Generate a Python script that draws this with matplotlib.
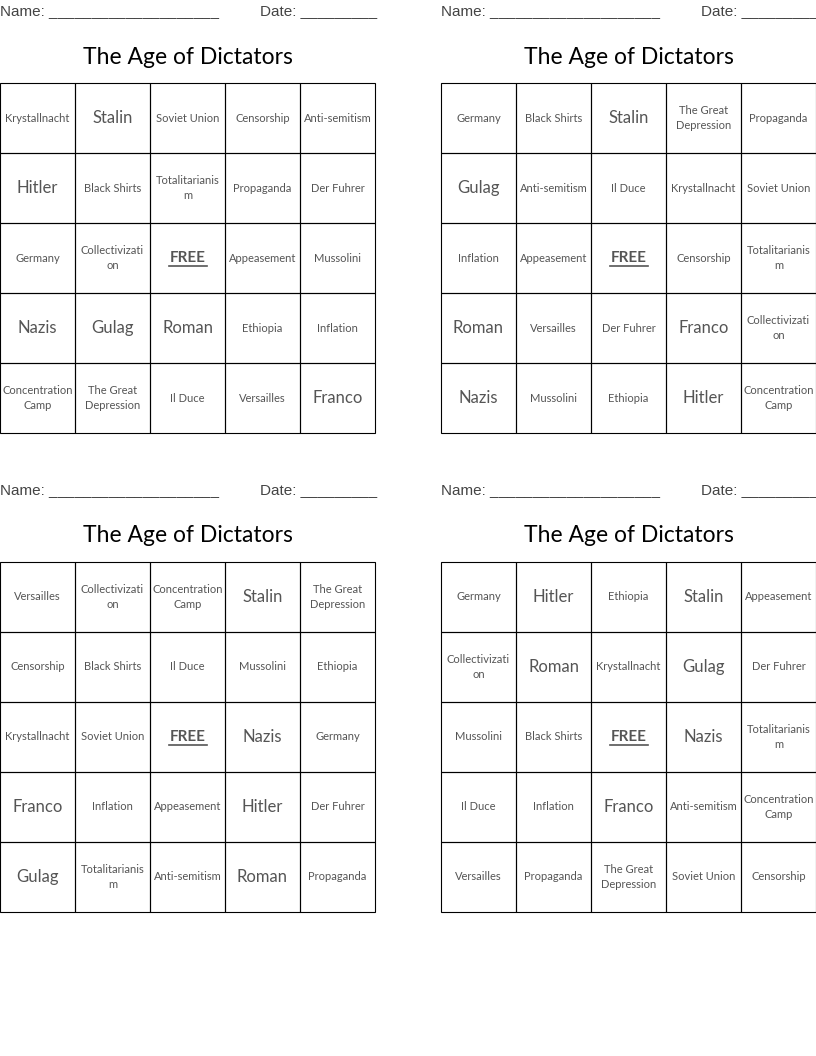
import matplotlib
matplotlib.use("Agg")
import matplotlib.pyplot as plt
from matplotlib.patches import Rectangle

title = "The Age of Dictators"
card1 = ["Krystallnacht","Stalin","Soviet Union","Censorship","Anti-semitism",
         "Hitler","Black Shirts","Totalitarianism","Propaganda","Der Fuhrer",
         "Germany","Collectivization","FREE","Appeasement","Mussolini",
         "Nazis","Gulag","Roman","Ethiopia","Inflation",
         "Concentration Camp","The Great Depression","Il Duce","Versailles","Franco"]
card2 = ["Germany","Black Shirts","Stalin","The Great Depression","Propaganda",
         "Gulag","Anti-semitism","Il Duce","Krystallnacht","Soviet Union",
         "Inflation","Appeasement","FREE","Censorship","Totalitarianism",
         "Roman","Versailles","Der Fuhrer","Franco","Collectivization",
         "Nazis","Mussolini","Ethiopia","Hitler","Concentration Camp"]
card3 = ["Versailles","Collectivization","Concentration Camp","Stalin","The Great Depression",
         "Censorship","Black Shirts","Il Duce","Mussolini","Ethiopia",
         "Krystallnacht","Soviet Union","FREE","Nazis","Germany",
         "Franco","Inflation","Appeasement","Hitler","Der Fuhrer",
         "Gulag","Totalitarianism","Anti-semitism","Roman","Propaganda"]
card4 = ["Germany","Hitler","Ethiopia","Stalin","Appeasement",
         "Collectivization","Roman","Krystallnacht","Gulag","Der Fuhrer",
         "Mussolini","Black Shirts","FREE","Nazis","Totalitarianism",
         "Il Duce","Inflation","Franco","Anti-semitism","Concentration Camp",
         "Versailles","Propaganda","The Great Depression","Soviet Union","Censorship"]
cards = [card1, card2, card3, card4]

W, H = 816, 1056
fig = plt.figure(figsize=(W/100, H/100), dpi=100)
ax = fig.add_axes([0, 0, 1, 1])
ax.set_xlim(0, W); ax.set_ylim(H, 0); ax.axis("off")

FONT = "Lato"
TXT = "#555555"

def wrap(s):
    if len(s) <= 13:
        return s
    words = s.split()
    if len(words) == 1:
        return s[:14] + "\n" + s[14:]
    lines, cur = [], ""
    for w in words:
        if cur and len(cur) + 1 + len(w) > 13:
            lines.append(cur); cur = w
        else:
            cur = (cur + " " + w).strip()
    lines.append(cur)
    return "\n".join(lines)

origins = [(0, 0), (441, 0), (0, 479), (441, 479)]
cw, ch = 75, 70
for card, (ox, oy) in zip(cards, origins):
    ax.text(ox, oy + 11, "Name: " + "_" * 20, fontsize=11, color="#444444",
            va="center", ha="left", family="Liberation Sans")
    ax.text(ox + 260, oy + 11, "Date: " + "_" * 9, fontsize=11, color="#444444",
            va="center", ha="left", family="Liberation Sans", clip_on=False)
    ax.text(ox + 188, oy + 57, title, fontsize=16.5, color="black", va="center",
            ha="center", family=FONT)
    gy = oy + 83
    for i, word in enumerate(card):
        r, c = divmod(i, 5)
        x0, y0 = ox + c * cw, gy + r * ch
        ax.add_patch(Rectangle((x0, y0), cw, ch, fill=False, ec="black", lw=0.8))
        cx, cy = x0 + cw / 2, y0 + ch / 2
        if word == "FREE":
            ax.text(cx, cy, "FREE", fontsize=11, fontweight="bold", color=TXT,
                    ha="center", va="center", family=FONT)
            ax.plot([cx - 19, cx + 19], [cy + 8, cy + 8], color=TXT, lw=1.2)
        elif len(word) <= 6:
            ax.text(cx, cy, word, fontsize=12, color=TXT, ha="center", va="center", family=FONT)
        else:
            ax.text(cx, cy, wrap(word), fontsize=8, color=TXT, ha="center", va="center",
                    family=FONT, linespacing=1.5)

fig.savefig("out.png", dpi=100)
